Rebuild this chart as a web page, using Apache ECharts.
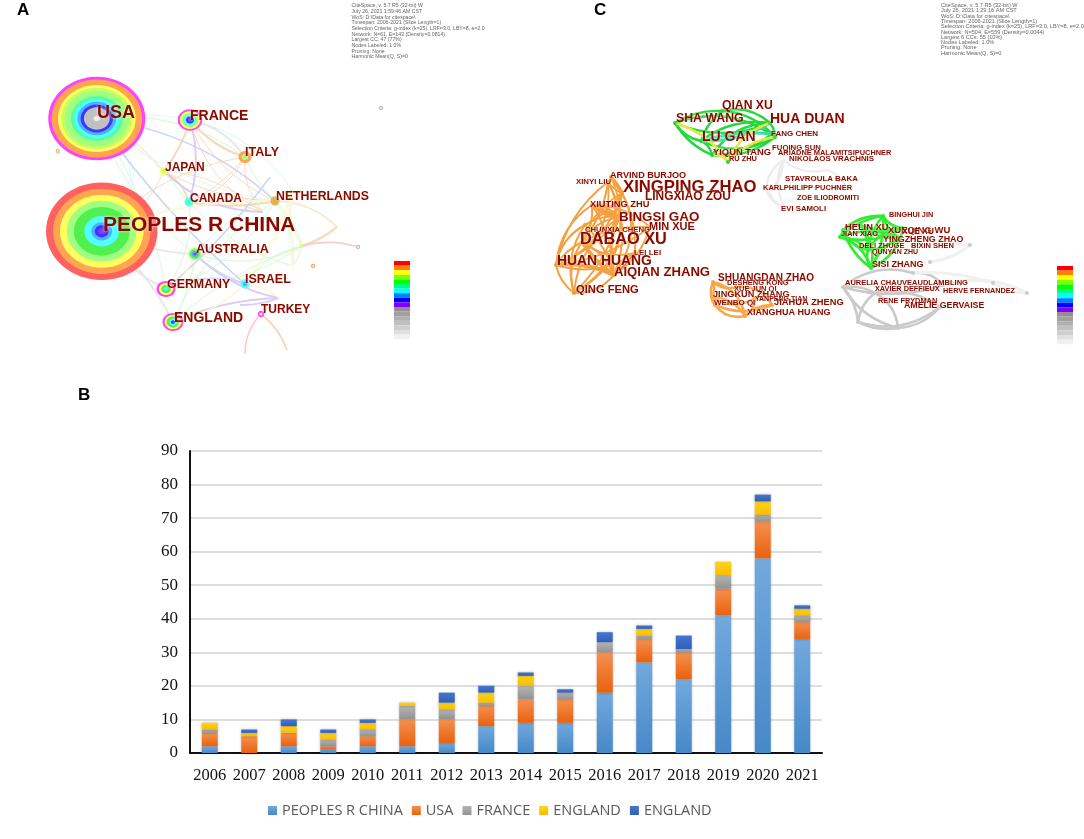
<!DOCTYPE html>
<html>
<head>
<meta charset="utf-8">
<title>Country and author networks</title>
<style>
  html, body { margin: 0; padding: 0; background: #fff; }
  #chart { width: 1084px; height: 839px; }
</style>
<script src="https://cdn.jsdelivr.net/npm/echarts@6/dist/echarts.min.js"></script>
</head>
<body>
<div id="chart"></div>
<script>
// panel B
var years = ['2006','2007','2008','2009','2010','2011','2012','2013','2014','2015','2016','2017','2018','2019','2020','2021'];
var china = [2,0,2,1,2,2,3,8,9,9,18,27,22,41,58,34];
var usa = [4,5,4,1,3,8,7,6,7,7,12,7,8,8,11,5];
var france = [1,0,0,2,2,4,3,1,4,2,3,1,1,4,2,2];
var england = [2,1,2,2,2,1,2,3,3,0,0,2,0,4,4,2];
var england2 = [0,1,2,1,1,0,3,2,1,1,3,1,4,0,2,1];

// panels A and C: network nodes [name, x, y, rx, ry]
var countryNodes = [
  ['USA',96.8,118.5,48.5,41.8],
  ['CHINA',101.7,231.3,55.7,48.7],
  ['FRANCE',190,120,12.3,10.7],
  ['ITALY',245,157,6.5,6],
  ['JAPAN',163.7,171,4,4],
  ['CANADA',189,202,4.5,4.5],
  ['NETHERLANDS',275,201,4.5,4.5],
  ['AUSTRALIA',195,254,6.5,6],
  ['GERMANY',166,289,9.5,8],
  ['ISRAEL',245,284,4.5,4.5],
  ['ENGLAND',173,322,10.5,9],
  ['TURKEY',261,314,3.2,3.2],
  ['n1',381,108,2.2,2.2],
  ['n2',57.7,151,2,2],
  ['n3',358,247,2.2,2.2],
  ['n4',313,266,2.2,2.2],
  ['n5',302,246,2,2]
];
var nodeRings = {
  USA: [0,2,2,4,5,6,6,8,9,10,11,13,13,13,14],
  CHINA: [1,1,2,2,4,4,6,6,7,7,7,9,9,10,11,12],
  FRANCE: [0,4,6,9,11,12],
  ITALY: [2,2,5,9],
  JAPAN: [4,5],
  CANADA: [9,8],
  NETHERLANDS: [2,2,7],
  AUSTRALIA: [6,7,10,12],
  GERMANY: [0,4,7,9],
  ISRAEL: [9,10],
  ENGLAND: [0,4,7,9,11],
  TURKEY: [0,14],
  n1: [13,14], n2: [2,14], n3: [13,14], n4: [2,14], n5: [5,14]
};
// points the pale curves pass through
var countryPoints = [
  ['p1',263,212],['p2',337,227],['p3',270,177],['p4',279,298],['p5',245,354],['p6',287,350],['p7',292,190],['p8',240,305],['p9',293,266]
];
var countryLinks = [
  { color:'#f9dcc0', width:1, bend:0.12, pairs:[['USA','JAPAN'],['FRANCE','NETHERLANDS'],['ITALY','CANADA'],['JAPAN','NETHERLANDS'],['JAPAN','p1'],['FRANCE','p1'],['CANADA','p1'],['ITALY','CHINA'],['JAPAN','CHINA'],['CANADA','ITALY'],['FRANCE','CANADA'],['ITALY','p1']] },
  { color:'#f8d8b8', width:2, bend:0.1, pairs:[['FRANCE','JAPAN'],['FRANCE','ITALY'],['JAPAN','CANADA'],['CANADA','NETHERLANDS'],['TURKEY','p6']] },
  { color:'#fbdcc0', width:2.5, bend:0.1, pairs:[['p2','n5']] },
  { color:'#fbe2cc', width:1.5, bend:0.2, pairs:[['NETHERLANDS','p2']] },
  { color:'#d8f8d4', width:1, bend:0.1, pairs:[['USA','CANADA'],['USA','AUSTRALIA'],['USA','ITALY'],['ITALY','NETHERLANDS'],['NETHERLANDS','n5'],['AUSTRALIA','n5'],['ENGLAND','n5'],['GERMANY','n5'],['NETHERLANDS','p9'],['p9','n5'],['AUSTRALIA','p7'],['GERMANY','CANADA'],['USA','GERMANY'],['CANADA','p9'],['ISRAEL','n5'],['ENGLAND','AUSTRALIA'],['ENGLAND','NETHERLANDS'],['GERMANY','NETHERLANDS']] },
  { color:'#dcf8f8', width:1, bend:0.1, pairs:[['USA','FRANCE'],['USA','NETHERLANDS'],['FRANCE','p7']] },
  { color:'#dcf8f8', width:1, bend:0.55, pairs:[['USA','CHINA'],['CHINA','USA']] },
  { color:'#dccdf6', width:1.8, bend:0.1, pairs:[['ENGLAND','p4'],['AUSTRALIA','p4'],['GERMANY','ISRAEL'],['p8','p4'],['FRANCE','CANADA'],['JAPAN','p1']] },
  { color:'#cdd6f5', width:1.6, bend:0.06, pairs:[['p3','GERMANY'],['AUSTRALIA','ISRAEL'],['USA','NETHERLANDS'],['USA','ISRAEL']] },
  { color:'#e8e8e8', width:2, bend:0.1, pairs:[['CHINA','ENGLAND'],['CHINA','GERMANY'],['FRANCE','ITALY'],['CHINA','AUSTRALIA']] },
  { color:'#fbf9cc', width:1.5, bend:0.1, pairs:[['CHINA','NETHERLANDS'],['ENGLAND','ISRAEL'],['n5','p7'],['ISRAEL','p7'],['ISRAEL','p4'],['GERMANY','AUSTRALIA'],['p9','p7']] },
  { color:'#fbc8c8', width:1.5, bend:0.15, pairs:[['n5','n3'],['TURKEY','p5']] }
];
var countryLabels = [
  ['USA',97,113,18],['PEOPLES R CHINA',103,225,21],['FRANCE',190,116,14],['ITALY',245,153,12.5],['JAPAN',165,168,12],
  ['CANADA',190,199,12],['NETHERLANDS',276,197,12.3],['AUSTRALIA',196,250,12.6],['ISRAEL',245,280,12.5],
  ['GERMANY',167,285,12.4],['ENGLAND',174,318,14],['TURKEY',261,310,12]
];

var authorPoints = [
  ['g1',675,123],['g2',722,111],['g3',770,123],['g4',701,141],['g5',775,137],['g6',712,155],['g7',728,162],['g8',772,134],
  ['o1',608,182],['o2',611,177],['o3',622,193],['o4',592,205],['o5',582,242],['o6',556,265],['o7',614,275],['o8',574,293],['o9',620,217],['o10',635,253],['o11',650,227],['o12',585,225],
  ['s1',713,282],['s2',712,297],['s3',715,305],['s4',745,316],['s5',772,305],['s6',737,287],['s7',755,298],
  ['u1',767,183],['u2',783,160],['u3',827,170],['u4',767,193],['u5',785,208],['u6',845,185],
  ['h1',840,237],['h2',883,216],['h3',903,228],['h4',871,268],['h5',843,230],['h6',868,250],['h7',900,238],['h8',860,225],
  ['l1',843,287],['l2',858,322],['l3',898,328],['l4',913,273],['l5',943,285],['l6',993,283],['l7',1027,293],['l8',875,293],['l9',940,307],['l10',970,245],['l11',930,262]
];
var authorLinks = [
  { color:'#22d83a', width:2.4, bend:0.16, pairs:[['g1','g2'],['g1','g4'],['g2','g3'],['g2','g4'],['g4','g3'],['g4','g5'],['g3','g5'],['g6','g5'],['g6','g3'],['g1','g6'],['g2','g5'],['g6','g4'],['g8','g6'],['g1','g3'],['g1','g5']] },
  { color:'#35e0a0', width:3, bend:0.1, pairs:[['g4','g8'],['g4','g3']] },
  { color:'#e6e640', width:2.4, bend:0.18, pairs:[['g1','g7'],['g3','g7'],['g6','g7'],['g5','g7']] },
  { color:'#f5a040', width:2, bend:0.14, pairs:[['o1','o5'],['o1','o6'],['o1','o7'],['o1','o3'],['o4','o5'],['o4','o6'],['o4','o7'],['o3','o5'],['o3','o6'],['o3','o7'],['o3','o8'],['o9','o5'],['o9','o6'],['o9','o7'],['o9','o4'],['o5','o6'],['o5','o7'],['o5','o8'],['o6','o7'],['o6','o8'],['o7','o8'],['o11','o5'],['o11','o7'],['o12','o6'],['o12','o7'],['o10','o7'],['o10','o6'],['o12','o3'],['o4','o9'],['o9','o8'],['o11','o6'],['o11','o4'],['o10','o5'],['o10','o3'],['o12','o9'],['o12','o8']] },
  { color:'#f5a040', width:1.8, bend:0.38, pairs:[['o1','o6'],['o8','o2'],['o1','o8'],['o7','o2']] },
  { color:'#f5a040', width:4, bend:0.05, pairs:[['o2','o3'],['o5','o7'],['o6','o7'],['o4','o9']] },
  { color:'#f04a3a', width:1.5, bend:0.05, pairs:[['o10','o7']] },
  { color:'#f6a848', width:2.6, bend:0.22, pairs:[['s1','s2'],['s1','s3'],['s1','s4'],['s2','s3'],['s2','s4'],['s3','s4'],['s4','s5'],['s1','s6'],['s6','s5'],['s3','s5'],['s7','s4'],['s2','s7']] },
  { color:'#ececec', width:2.2, bend:0.2, pairs:[['u1','u2'],['u2','u3'],['u1','u4'],['u4','u5'],['u2','u4'],['u1','u5'],['u3','u6'],['u2','u5']] },
  { color:'#30ec30', width:2.6, bend:0.16, pairs:[['h1','h2'],['h1','h3'],['h1','h4'],['h1','h5'],['h1','h6'],['h2','h3'],['h2','h4'],['h2','h7'],['h3','h4'],['h5','h4'],['h5','h2'],['h6','h4'],['h6','h2'],['h7','h4'],['h8','h4'],['h8','h3'],['h1','h7'],['h5','h6'],['h8','h6'],['h8','h7'],['h6','h3'],['h6','h7']] },
  { color:'#cacaca', width:2.6, bend:0.16, pairs:[['l1','l2'],['l1','l3'],['l1','l4'],['l2','l3'],['l2','l8'],['l3','l8'],['l1','l8'],['l3','l9'],['l4','l5'],['l1','l5'],['l8','l9'],['l2','l9']] },
  { color:'#f0f0f0', width:3, bend:0.1, pairs:[['l4','l6'],['l6','l7'],['l5','l7'],['h3','l10'],['l10','l11']] }
];
// which clusters show small round dots at their nodes
var dotColors = { g: '#22d83a', o: '#f59a30', s: '#f6a848', h: '#30ec30', l: '#cacaca' };
var authorLabels = [
  ['QIAN XU',722,106,12.2],['SHA WANG',676,119,12.3],['HUA DUAN',770,119,14],['LU GAN',702,137,14],['FANG CHEN',771,134,8],
  ['YIQUN TANG',713,152,9.4],['RU ZHU',729,159,7.4],['FUQING SUN',772,148,7.8],['ARIADNE MALAMITSIPUCHNER',778,153,7.4],['NIKOLAOS VRACHNIS',789,159,7.9],
  ['ARVIND BURJOO',610,175,9.1],['XINYI LIU',576,182,7.8],['XINGPING ZHAO',623,187,16.7],['LINGXIAO ZOU',645,197,11.9],['XIUTING ZHU',590,204,9.3],
  ['BINGSI GAO',619,217,13.4],['MIN XUE',649,227,11],['CHUNXIA CHENG',585,230,7.7],['DABAO XU',580,240,16.3],['LEI LEI',634,253,8],
  ['HUAN HUANG',557,261,13.9],['AIQIAN ZHANG',614,272,13.1],['QING FENG',576,290,11.2],
  ['SHUANGDAN ZHAO',718,278,10],['DESHENG KONG',727,283,7.5],['XUE JUN QI',734,289,7.5],['JINGKUN ZHANG',713,294,9.2],['YANPENG TIAN',755,299,7],
  ['JIAHUA ZHENG',774,302,9.3],['WENBO QI',714,303,8],['XIANGHUA HUANG',747,313,9],
  ['STAVROULA BAKA',785,179,7.9],['KARLPHILIPP PUCHNER',763,188,7.5],['ZOE ILIODROMITI',797,198,7.3],['EVI SAMOLI',781,209,7.8],
  ['BINGHUI JIN',889,215,7.3],['HELIN XU',845,227,9.3],['JIAN XIAO',841,234,7.4],['XUEQING WU',888,230,9.5],['XUE XU',902,232,8.6],
  ['YINGZHENG ZHAO',883,240,8.9],['DELI ZHUGE',859,246,7.5],['BIXIN SHEN',911,246,7.5],['QUNYAN ZHU',872,252,7],['SISI ZHANG',872,265,9],
  ['AURELIA CHAUVEAUDLAMBLING',845,283,7.5],['XAVIER DEFFIEUX',875,289,7.3],['HERVE FERNANDEZ',943,291,7.3],['RENE FRYDMAN',878,301,7.4],['AMELIE GERVAISE',904,306,8.8]
];
var ringColors = ['#ff40ff','#ff6060','#ffa450','#ffc070','#ffff60','#c8ff60','#a0ff80','#50f050','#50ffa8','#50ffff','#50b0ff','#3838ff','#8838ff','#c0c0c0','#ececec'];
var stripColors = ['#ff0000','#ff8000','#ffff00','#80ff00','#00ff00','#00ff80','#00ffff','#0080ff','#0000ff','#8000ff','#909090','#a0a0a0','#b0b0b0','#c0c0c0','#d0d0d0','#e0e0e0','#f0f0f0'];
var stripOrigins = [[394,261],[1057,266]];

var infoA = ['CiteSpace, v. 5.7.R5 (32-bit) W','July 26, 2021 1:59:46 AM CST','WoS: D:\\Data for citespace\\','Timespan: 2006-2021 (Slice Length=1)','Selection Criteria: g-index (k=25), LRF=3.0, LBY=8, e=2.0','Network: N=61, E=143 (Density=0.0814)','Largest CC: 47 (77%)','Nodes Labeled: 1.0%','Pruning: None','Harmonic Mean(Q, S)=0'];
var infoC = ['CiteSpace, v. 5.7.R5 (32-bit) W','July 26, 2021 1:29:16 AM CST','WoS: D:\\Data for citespace\\','Timespan: 2006-2021 (Slice Length=1)','Selection Criteria: g-index (k=25), LRF=3.0, LBY=8, e=2.0','Network: N=504, E=559 (Density=0.0044)','Largest 6 CCs: 55 (10%)','Nodes Labeled: 1.0%','Pruning: None','Harmonic Mean(Q, S)=0'];

var chart = echarts.init(document.getElementById('chart'));

var grad = function(top, bottom) {
  return new echarts.graphic.LinearGradient(0, 0, 0, 1, [{offset:0,color:top},{offset:1,color:bottom}]);
};

var barSeries = function(name, values, top, bottom) {
  return {
    type: 'bar', name: name, data: values, stack: 'total', barWidth: 16,
    xAxisIndex: 0, yAxisIndex: 0, silent: true,
    itemStyle: { color: grad(top, bottom), shadowBlur: 3, shadowColor: 'rgba(0,0,0,0.28)' }
  };
};

var graphSeries = function(points, groups) {
  return groups.map(function(g) {
    return {
      type: 'graph', coordinateSystem: 'cartesian2d', xAxisIndex: 1, yAxisIndex: 1,
      symbolSize: 0, silent: true, z: 2, animation: false,
      label: { show: false },
      data: points.map(function(p) { return { name: p[0], value: [p[1], p[2]] }; }),
      links: g.pairs.map(function(pair, i) {
        return { source: pair[0], target: pair[1], lineStyle: { curveness: (i % 2 ? -1 : 1) * (g.bend + (i % 3) * 0.05) } };
      }),
      lineStyle: { color: g.color, width: g.width, opacity: 1 }
    };
  });
};

var labelSeries = function(labels) {
  return {
    type: 'scatter', xAxisIndex: 1, yAxisIndex: 1, symbolSize: 0, silent: true, z: 5, animation: false,
    itemStyle: { opacity: 1 },
    data: labels.map(function(l) {
      return { name: l[0], value: [l[1], l[2]], label: { fontSize: l[3] } };
    }),
    label: {
      show: true, position: 'right', distance: 0, formatter: '{b}',
      fontFamily: 'Liberation Sans', fontWeight: 'bold', color: '#880808',
      textShadowColor: 'rgba(255,248,215,0.9)', textShadowBlur: 3
    }
  };
};

var dotSeries = {
  type: 'scatter', xAxisIndex: 1, yAxisIndex: 1, symbolSize: 4, silent: true, z: 3, animation: false,
  itemStyle: { opacity: 1 },
  data: authorPoints.filter(function(p) { return dotColors[p[0][0]]; }).map(function(p) {
    return { value: [p[1], p[2]], itemStyle: { color: dotColors[p[0][0]] } };
  })
};

var ringSeries = {
  type: 'custom', xAxisIndex: 1, yAxisIndex: 1, silent: true, z: 3, animation: false, clip: false,
  data: countryNodes.map(function(n, i) { return [n[1], n[2], n[3], n[4], i]; }),
  encode: { x: 0, y: 1 },
  renderItem: function(params, api) {
    var c = api.coord([api.value(0), api.value(1)]);
    var size = api.size([api.value(2), api.value(3)]);
    var rings = nodeRings[countryNodes[api.value(4)][0]];
    return {
      type: 'group',
      children: rings.map(function(colorIndex, i) {
        var f = 1 - i / rings.length;
        return { type: 'ellipse', shape: { cx: c[0], cy: c[1], rx: size[0] * f, ry: size[1] * f }, style: { fill: ringColors[colorIndex] } };
      })
    };
  }
};

var stripData = [];
stripOrigins.forEach(function(o) {
  stripColors.forEach(function(color, i) { stripData.push([o[0], o[1] + i * 4.6, i]); });
});
var stripSeries = {
  type: 'custom', xAxisIndex: 1, yAxisIndex: 1, silent: true, z: 3, animation: false,
  data: stripData,
  encode: { x: 0, y: 1 },
  renderItem: function(params, api) {
    var a = api.coord([api.value(0), api.value(1)]);
    var b = api.coord([api.value(0) + 16, api.value(1) + 4.6]);
    return { type: 'rect', shape: { x: a[0], y: a[1], width: b[0] - a[0], height: b[1] - a[1] }, style: { fill: stripColors[api.value(2)] } };
  }
};

var letterStyle = { fontFamily: 'Liberation Sans', fontWeight: 'bold', fontSize: 17, color: '#000' };
var infoStyle = function(size, height) {
  return { fontFamily: 'Liberation Sans', fontWeight: 'normal', fontSize: size, lineHeight: height, color: '#666' };
};

chartSettings = {
  backgroundColor: '#fff',
  animation: false,
  title: [
    { text: 'A', left: 17, top: 2, padding: 0, textStyle: letterStyle },
    { text: 'B', left: 78, top: 387, padding: 0, textStyle: letterStyle },
    { text: 'C', left: 594, top: 2, padding: 0, textStyle: letterStyle },
    { text: infoA.join('\n'), left: 351.5, top: 3, padding: 0, textStyle: infoStyle(5.2, 5.67) },
    { text: infoC.join('\n'), left: 941, top: 3, padding: 0, textStyle: infoStyle(5.57, 5.27) }
  ],
  legend: {
    left: 268, top: 803, padding: 0, icon: 'rect', itemWidth: 9, itemHeight: 9, itemGap: 9,
    data: ['PEOPLES R CHINA', 'USA', 'FRANCE', 'ENGLAND', 'ENGLAND '],
    selectedMode: false,
    formatter: function(name) { return name.trim(); },
    textStyle: { fontFamily: 'Open Sans', fontSize: 14.5, color: '#595959' }
  },
  grid: [
    { left: 190, top: 451, width: 632, height: 302 },
    { left: 0, top: 0, width: 1084, height: 839 }
  ],
  xAxis: [
    {
      type: 'category', gridIndex: 0, data: years,
      axisLine: { lineStyle: { color: '#111', width: 2 } },
      axisTick: { show: false },
      axisLabel: { fontFamily: 'Liberation Serif', fontSize: 16.5, color: '#111', margin: 14, interval: 0 }
    },
    { type: 'value', gridIndex: 1, min: 0, max: 1084, show: false }
  ],
  yAxis: [
    {
      type: 'value', gridIndex: 0, min: 0, max: 90, interval: 10,
      axisLine: { show: true, lineStyle: { color: '#111', width: 2 } },
      axisTick: { show: false },
      axisLabel: { fontFamily: 'Liberation Serif', fontSize: 17, color: '#111', margin: 12 },
      splitLine: { lineStyle: { color: '#d2d2d2', width: 1.5 } }
    },
    { type: 'value', gridIndex: 1, min: 0, max: 839, inverse: true, show: false }
  ],
  series: [
    barSeries('PEOPLES R CHINA', china, '#72a9de', '#4688c8'),
    barSeries('USA', usa, '#f5904f', '#e8620f'),
    barSeries('FRANCE', france, '#b4b4b4', '#929292'),
    barSeries('ENGLAND', england, '#ffd21a', '#f9bd00'),
    barSeries('ENGLAND ', england2, '#4676cc', '#2f5fb8')
  ].concat(
    graphSeries(countryNodes.map(function(n) { return [n[0], n[1], n[2]]; }).concat(countryPoints), countryLinks),
    graphSeries(authorPoints, authorLinks),
    [ringSeries, dotSeries, stripSeries, labelSeries(countryLabels), labelSeries(authorLabels)]
  )
};

chart.setOption(chartSettings);
</script>
</body>
</html>
